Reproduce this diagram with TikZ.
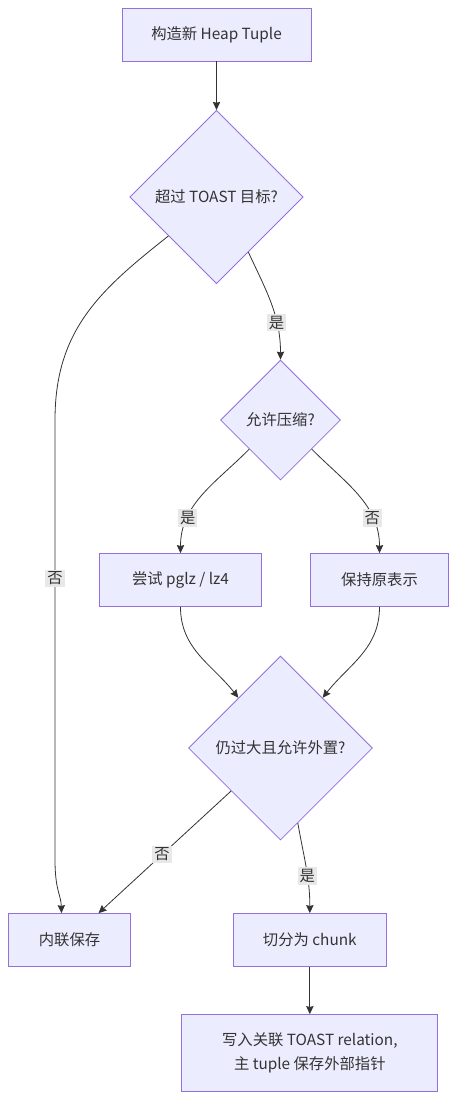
\documentclass[tikz,border=0pt]{standalone}
\usepackage{fontspec}
\setmainfont{Noto Sans CJK SC}
\usepackage{tikz}
\usetikzlibrary{arrows.meta}
\usetikzlibrary{shapes,calc,positioning}
\definecolor{nodefill}{HTML}{ECECFF}
\definecolor{nodeline}{HTML}{9370DB}
\definecolor{wire}{HTML}{333333}
\definecolor{labelbg}{HTML}{E8E8E8}

\begin{document}
\begin{tikzpicture}[x=0.75pt, y=-0.75pt, >={Stealth[length=6pt,width=5.5pt,inset=0.6pt]}, on grid, line width=0.6pt,
	font=\fontsize{11.5}{18}\selectfont,
	proc/.style={rectangle, draw=nodeline, fill=nodefill, text=wire, minimum height=39.75pt, align=center, inner sep=0pt},
	decide/.style={diamond, draw=nodeline, fill=nodefill, text=wire, inner sep=0pt, aspect=1},
	flow/.style={draw=wire, ->},
	lbl/.style={fill=labelbg, text=wire, inner sep=1.5pt}]
			\useasboundingbox (0,0) rectangle (464,1119);
			\node[proc, minimum width=141.75pt] (T1) at (216.5,34.5) {构造新 Heap Tuple};
			\node[decide, minimum size=130pt] (T2) [below = 121.9pt of T1] {超过 TOAST 目标?};
			\node[decide, minimum size=90pt] (T3) [below right = 167.25pt and 48pt of T2] {允许压缩?};
			\node[proc, minimum width=121.5pt] (T4) [below left = 120pt and 75pt of T3] {尝试 pglz / lz4};
			\node[proc, minimum width=103.5pt] (T5) [below right = 120pt and 74.25pt of T3] {保持原表示};
			\node[decide, minimum size=138pt] (T6) [below right = 126pt and 75pt of T4] {仍过大且允许外置?};
			\node[proc, minimum width=91.5pt] (T7) [below left = 144pt and 158.25pt of T6] {内联保存};
			\node[proc, minimum width=114.75pt] (T8) [below right = 144pt and 22pt of T6] {切分为 chunk};
			\node[proc, minimum width=192pt, minimum height=57.75pt] (T9) [below = 84.75pt of T8] {写入关联 TOAST relation,\\ 主 tuple 保存外部指针};
			
			
			\path (T1) edge [flow] (T2);
			\draw[flow] (T2.-141) .. controls (100,290) and (55,330) .. (55,420) -- node[lbl, pos=0.36] {否} (55,860) .. controls (55,890) and (61,895) .. ($(T7.north)+(-8,0)$);
			\path (T2.-60) edge [flow, out=-65, in=90] node[lbl, pos=0.68] {是} (T3.north);
			\path (T3.-137) edge [flow, out=-135, in=90] node[lbl, pos=0.72] {是} (T4.north);
			\path (T3.-43) edge [flow, out=-45, in=90] node[lbl, pos=0.72] {否} (T5.north);
			\path (T4.south) edge [flow, out=-90, in=128] (T6.130);
			\path (T5.south) edge [flow, out=-90, in=52] (T6.50);
			\path (T6.-139) edge [flow] node[lbl, pos=0.52] {否} ($(T7.north)+(29,0)$);
			\path (T6.-77) edge [flow, out=-80, in=90] node[lbl, pos=0.6] {是} (T8.north);
			\path (T8) edge [flow] (T9);
\end{tikzpicture}
\end{document}
